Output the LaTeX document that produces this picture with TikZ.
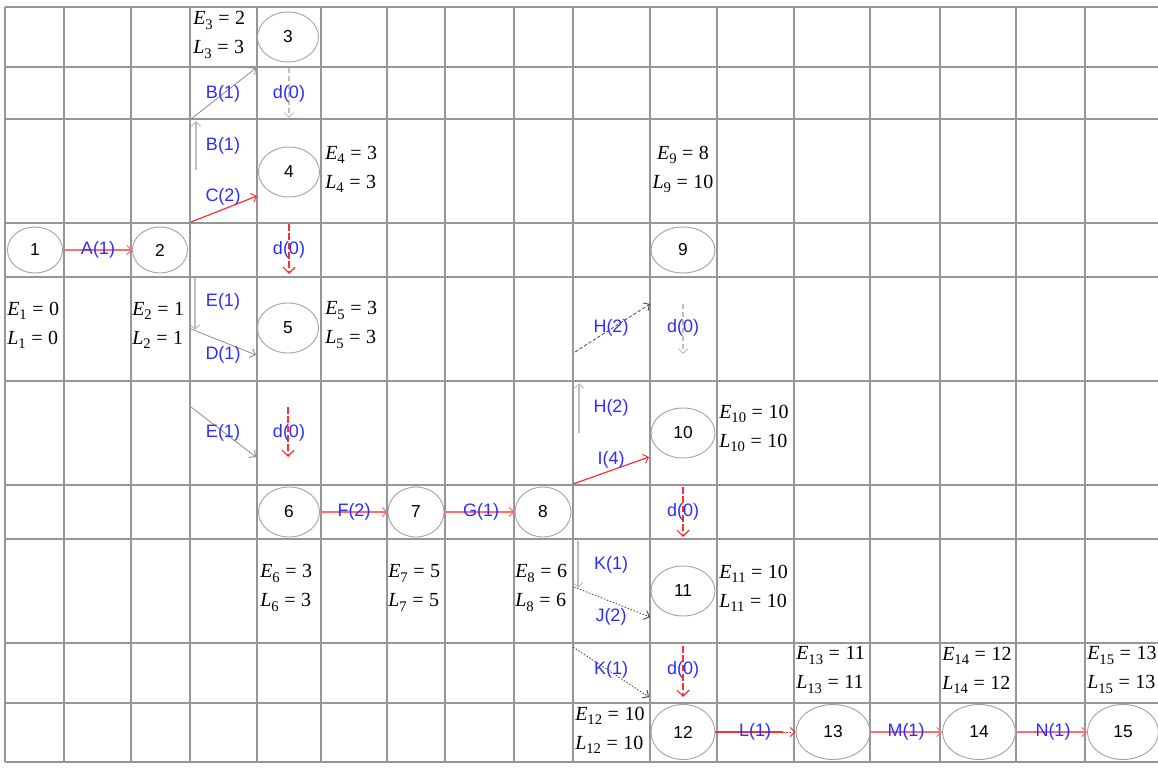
\documentclass[tikz,border=0pt]{standalone}
\usepackage{fontspec}
\setmainfont{Liberation Sans}
\newfontfamily\tmsfont{Liberation Serif}
\usetikzlibrary{shapes.geometric,arrows.meta}
\definecolor{gridgray}{RGB}{150,150,150}
\definecolor{nodegray}{RGB}{165,165,165}
\definecolor{labblue}{RGB}{45,45,255}
\definecolor{critred}{RGB}{255,45,45}
\definecolor{pinkred}{RGB}{255,110,110}
\definecolor{arrgray}{RGB}{140,140,140}
\definecolor{lightgray2}{RGB}{190,190,190}
\definecolor{darkdash}{RGB}{70,70,70}
\newcommand\evl[3]{\textit{#1}\raisebox{-0.45ex}{\fontsize{11}{11}\selectfont #2}\;=\;#3}
\tikzset{
  gridline/.style={draw=gridgray,line width=1.3pt},
  ev/.style={ellipse,draw=nodegray,line width=0.7pt,inner sep=0pt,
    minimum height={50*0.75pt},font=\fontsize{13}{15}\selectfont},
  lab/.style={text=labblue,inner sep=0pt,font=\fontsize{13.5}{16}\selectfont},
  elab/.style={inner sep=0pt,anchor=west,align=left,
    font=\tmsfont\fontsize{15}{21.75}\selectfont},
  tip/.style={-{Straight Barb[length=3.5pt,width=7pt,line width=0.7pt]}},
  bigtip/.style={-{Straight Barb[length=4.5pt,width=9pt,line width=0.9pt]}},
  crit/.style={tip,draw=critred,line width=0.9pt},
  critlight/.style={tip,draw=pinkred,line width=0.8pt},
  critdash/.style={bigtip,draw=critred,line width=0.9pt,dash pattern=on 5pt off 2pt},
  grayarr/.style={tip,draw=arrgray,line width=0.6pt},
  grayvert/.style={tip,draw=lightgray2,line width=0.9pt},
  graydash/.style={tip,draw=lightgray2,line width=0.9pt,dash pattern=on 4pt off 2pt},
  blackdash/.style={tip,draw=darkdash,line width=0.6pt,dash pattern=on 2.5pt off 1.5pt},
  blackdot/.style={tip,draw=darkdash,line width=0.6pt,dash pattern=on 1.2pt off 1.2pt}
}
\begin{document}
\begin{tikzpicture}[x=0.75pt,y=-0.75pt]
\useasboundingbox (0,0) rectangle (1158,770);
% grid
\foreach \xx in {5,64,131,190,257,321,387,445,514,573,650,717,794,870,940,1016,1085}
  \draw[gridline] (\xx,7) -- (\xx,762);
\foreach \yy in {7,67,119,223,277,381,485,539,643,703,762}
  \draw[gridline] (5,\yy) -- (1158,\yy);
% events
\node[ev,minimum width={55*0.75pt},minimum height={46*0.75pt}] (n1) at (35,250) {1};
\node[ev,minimum width={55*0.75pt},minimum height={46*0.75pt}] (n2) at (160,250) {2};
\node[ev,minimum width={61*0.75pt}] (n3) at (288,37) {3};
\node[ev,minimum width={61*0.75pt}] (n4) at (289,172) {4};
\node[ev,minimum width={61*0.75pt}] (n5) at (288,328) {5};
\node[ev,minimum width={61*0.75pt}] (n6) at (289,512) {6};
\node[ev,minimum width={56*0.75pt}] (n7) at (416,512) {7};
\node[ev,minimum width={56*0.75pt}] (n8) at (543,512) {8};
\node[ev,minimum width={64*0.75pt},minimum height={46*0.75pt}] (n9) at (683,250) {9};
\node[ev,minimum width={64*0.75pt}] (n10) at (683,433) {10};
\node[ev,minimum width={64*0.75pt}] (n11) at (683,591) {11};
\node[ev,minimum width={64*0.75pt},minimum height={55*0.75pt}] (n12) at (683,732) {12};
\node[ev,minimum width={74*0.75pt},minimum height={55*0.75pt}] (n13) at (833,732) {13};
\node[ev,minimum width={73*0.75pt},minimum height={55*0.75pt}] (n14) at (979,732) {14};
\node[ev,minimum width={71*0.75pt},minimum height={55*0.75pt}] (n15) at (1123,732) {15};
% connector points
\coordinate (bA) at (196,170); \coordinate (bB) at (196,121);
\coordinate (bC) at (191,119); \coordinate (bD) at (256,68);
\coordinate (cA) at (191,222); \coordinate (cB) at (257,196);
\coordinate (d34a) at (289,68); \coordinate (d34b) at (289,118);
\coordinate (d45a) at (289,224); \coordinate (d45b) at (289,274);
\coordinate (eA) at (195,278); \coordinate (eB) at (195,330);
\coordinate (dA) at (191,329); \coordinate (dB) at (256,355);
\coordinate (e2A) at (191,407); \coordinate (e2B) at (256,457);
\coordinate (d56a) at (288,407); \coordinate (d56b) at (288,457);
\coordinate (hA) at (579,433); \coordinate (hB) at (579,383);
\coordinate (h2A) at (575,352); \coordinate (h2B) at (650,304);
\coordinate (iA) at (573,484); \coordinate (iB) at (649,457);
\coordinate (d910a) at (683,304); \coordinate (d910b) at (683,354);
\coordinate (d1011a) at (683,487); \coordinate (d1011b) at (683,537);
\coordinate (kA) at (578,541); \coordinate (kB) at (578,588);
\coordinate (jA) at (574,587); \coordinate (jB) at (650,617);
\coordinate (k2A) at (573,647); \coordinate (k2B) at (649,697);
\coordinate (d1112a) at (683,646); \coordinate (d1112b) at (683,697);
\coordinate (lM) at (783,732);
% connectors
\draw[critlight] (n1) -- (n2);
\draw[grayvert] (bA) -- (bB);
\draw[grayarr] (bC) -- (bD);
\draw[crit] (cA) -- (cB);
\draw[graydash] (d34a) -- (d34b);
\draw[critdash] (d45a) -- (d45b);
\draw[grayvert] (eA) -- (eB);
\draw[grayarr] (dA) -- (dB);
\draw[grayarr] (e2A) -- (e2B);
\draw[critdash] (d56a) -- (d56b);
\draw[critlight] (n6) -- (n7);
\draw[critlight] (n7) -- (n8);
\draw[grayvert] (hA) -- (hB);
\draw[blackdash] (h2A) -- (h2B);
\draw[crit] (iA) -- (iB);
\draw[graydash] (d910a) -- (d910b);
\draw[critdash] (d1011a) -- (d1011b);
\draw[grayvert] (kA) -- (kB);
\draw[blackdot] (jA) -- (jB);
\draw[blackdot] (k2A) -- (k2B);
\draw[critdash] (d1112a) -- (d1112b);
\draw[draw=critred,line width=0.9pt] (n12) -- (lM);
\draw[tip,draw=critred,line width=0.7pt,dash pattern=on 1.2pt off 1.2pt] (lM) -- (n13);
\draw[critlight] (n13) -- (n14);
\draw[critlight] (n14) -- (n15);
% activity labels
\node[lab] (lA) at (98,250) {A(1)};
\node[lab] (lB1) at (223,94) {B(1)};
\node[lab] (lB2) at (223,146) {B(1)};
\node[lab] (lC) at (223,197) {C(2)};
\node[lab] (ld1) at (289,94) {d(0)};
\node[lab] (ld2) at (289,250) {d(0)};
\node[lab] (lE1) at (223,302) {E(1)};
\node[lab] (lD) at (223,355) {D(1)};
\node[lab] (lE2) at (223,433) {E(1)};
\node[lab] (ld3) at (289,433) {d(0)};
\node[lab] (lF) at (354,512) {F(2)};
\node[lab] (lG) at (481,512) {G(1)};
\node[lab] (lH1) at (611,328) {H(2)};
\node[lab] (ld4) at (683,328) {d(0)};
\node[lab] (lH2) at (611,408) {H(2)};
\node[lab] (lI) at (611,460) {I(4)};
\node[lab] (ld5) at (683,512) {d(0)};
\node[lab] (lK1) at (611,565) {K(1)};
\node[lab] (lJ) at (611,617) {J(2)};
\node[lab] (lK2) at (611,670) {K(1)};
\node[lab] (ld6) at (683,670) {d(0)};
\node[lab] (lL) at (755,732) {L(1)};
\node[lab] (lM2) at (906,732) {M(1)};
\node[lab] (lN) at (1053,732) {N(1)};
% earliest / latest times
\node[elab] (t1) at (7,325) {\evl{E}{1}{0}\\\evl{L}{1}{0}};
\node[elab] (t2) at (132,325) {\evl{E}{2}{1}\\\evl{L}{2}{1}};
\node[elab] (t3) at (193,35) {\evl{E}{3}{2}\\\evl{L}{3}{3}};
\node[elab] (t4) at (325,169) {\evl{E}{4}{3}\\\evl{L}{4}{3}};
\node[elab] (t5) at (325,325) {\evl{E}{5}{3}\\\evl{L}{5}{3}};
\node[elab] (t6) at (260,588) {\evl{E}{6}{3}\\\evl{L}{6}{3}};
\node[elab] (t7) at (388,588) {\evl{E}{7}{5}\\\evl{L}{7}{5}};
\node[elab] (t8) at (515,588) {\evl{E}{8}{6}\\\evl{L}{8}{6}};
\node[elab,anchor=center,align=center] (t9) at (683,169) {\evl{E}{9}{8}\\\evl{L}{9}{10}};
\node[elab] (t10) at (719,428) {\evl{E}{10}{10}\\\evl{L}{10}{10}};
\node[elab] (t11) at (719,588) {\evl{E}{11}{10}\\\evl{L}{11}{10}};
\node[elab] (t12) at (575,730) {\evl{E}{12}{10}\\\evl{L}{12}{10}};
\node[elab] (t13) at (796,670) {\evl{E}{13}{11}\\\evl{L}{13}{11}};
\node[elab] (t14) at (942,670) {\evl{E}{14}{12}\\\evl{L}{14}{12}};
\node[elab] (t15) at (1087,670) {\evl{E}{15}{13}\\\evl{L}{15}{13}};
\end{tikzpicture}
\end{document}
